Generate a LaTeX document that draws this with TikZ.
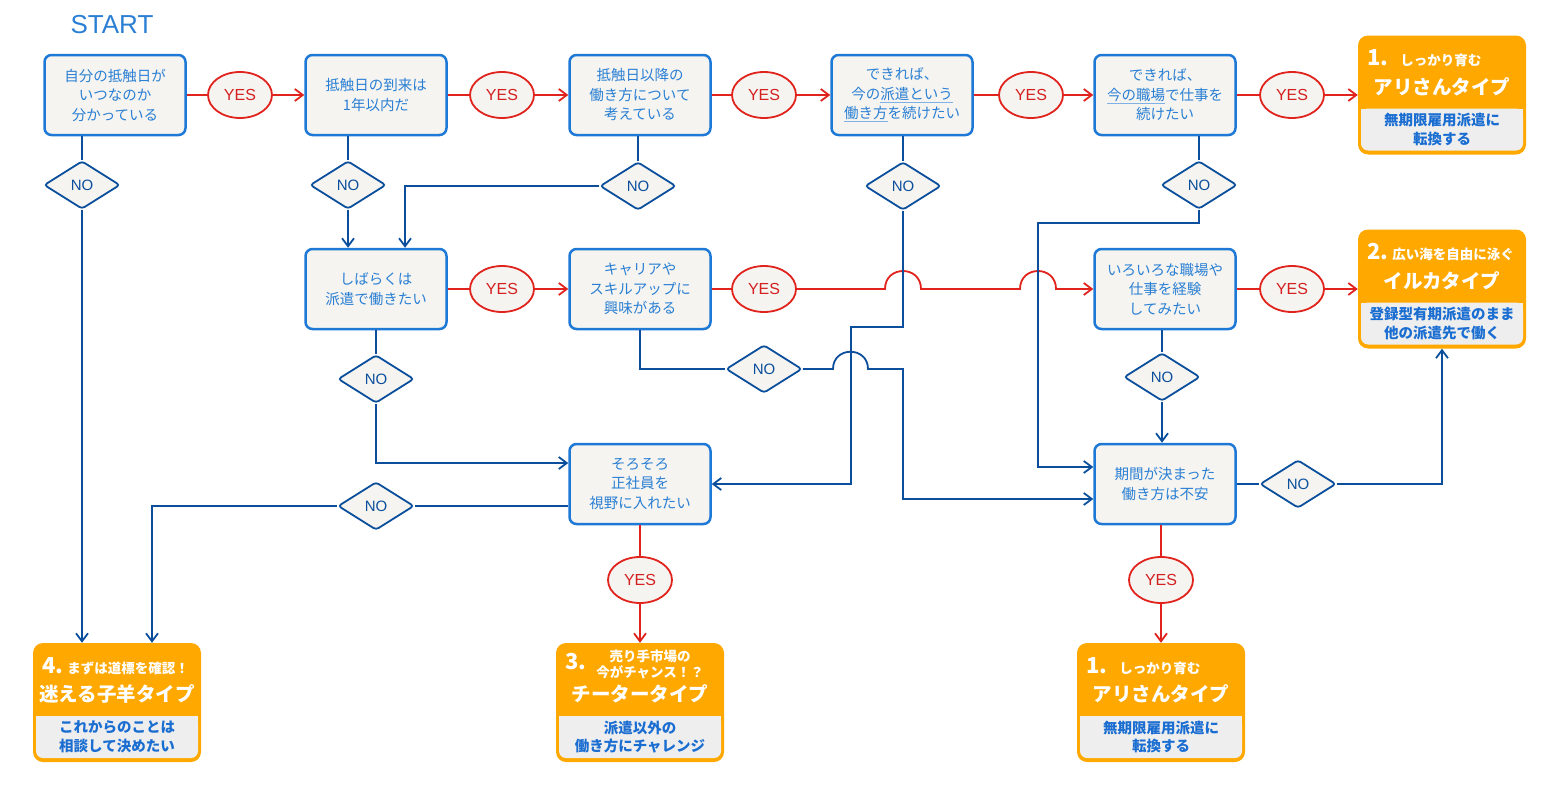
\documentclass[tikz,border=0pt]{standalone}
\usepackage{fontspec}
\setmainfont{Noto Sans CJK JP}
\newfontfamily\latinfont{Liberation Sans}
\usetikzlibrary{shapes.geometric,arrows.meta}

\definecolor{qborder}{HTML}{1E78D6}
\definecolor{qtext}{HTML}{2A7FD4}
\definecolor{qfill}{HTML}{F5F4F0}
\definecolor{ullight}{HTML}{7FB0E6}
\definecolor{noblue}{HTML}{0B4F9C}
\definecolor{yesred}{HTML}{E0231D}
\definecolor{yestext}{HTML}{D42020}
\definecolor{typeorange}{HTML}{FFA800}
\definecolor{panelgray}{HTML}{EEEEEE}
\definecolor{paneltext}{HTML}{1A6DD1}

\newcommand\ulmark[1]{{\color{ullight}\underline{\color{qtext}#1}}}
\newcommand\headnum{\fontsize{22}{22}\selectfont}
\newcommand\headsub{\fontsize{13.5}{16}\selectfont}

% orange result box: name, centre x, top y, header, title, panel text
\newcommand\typebox[6]{%
  \node[typebg] (#1) at (#2,#3+59.5) {};
  \fill[panelgray,rounded corners=7] (#2-81,#3+73) rectangle (#2+81,#3+115);
  \fill[panelgray] (#2-81,#3+73) rectangle (#2+81,#3+95);
  \node[paneltext] at (#2,#3+94) {#6};
  \node[typehead] at (#2-75,#3+23) {#4};
  \node[typetitle] at (#2,#3+51) {#5};
}

\begin{document}
\begin{tikzpicture}[x=1pt,y=-1pt,>={Straight Barb[length=8pt,width=12pt]},
    qbox/.style={draw=qborder, fill=qfill, line width=2.5, rounded corners=7,
      minimum width=141, minimum height=80, inner sep=0, align=center,
      text=qtext, font=\fontsize{14.5}{19.5}\selectfont},
    yesnode/.style={ellipse, draw=yesred, fill=qfill, line width=1.8,
      minimum width=64, minimum height=46, inner sep=0, text=yestext,
      font=\latinfont\fontsize{16}{16}\selectfont},
    nonode/.style={diamond, aspect=1.6, draw=noblue, fill=qfill, line width=1.8,
      minimum width=76, minimum height=48, inner sep=0, rounded corners=3,
      text=noblue, font=\latinfont\fontsize{15}{15}\selectfont},
    typebg/.style={fill=typeorange, rounded corners=10, minimum width=168,
      minimum height=119, inner sep=0},
    typehead/.style={anchor=west, inner sep=0, text=white, font=\bfseries},
    typetitle/.style={inner sep=0, text=white, font=\bfseries\fontsize{19.5}{20}\selectfont},
    paneltext/.style={inner sep=0, align=center, text=paneltext,
      font=\bfseries\fontsize{14.5}{18.5}\selectfont},
    yesline/.style={draw=yesred, line width=1.8},
    noline/.style={draw=noblue, line width=1.8}]
  \useasboundingbox (0,0) rectangle (1560,790);

  \node[text=qtext, font=\latinfont\fontsize{26}{26}\selectfont] (start) at (112,25) {START};

  % questions
  \node[qbox] (q1) at (115,95) {自分の抵触日が\\いつなのか\\分かっている};
  \node[qbox] (q2) at (376,95) {抵触日の到来は\\1年以内だ};
  \node[qbox] (q3) at (640,95) {抵触日以降の\\働き方について\\考えている};
  \node[qbox] (q4) at (902,95) {できれば、\\今の\ulmark{派遣という}\\\ulmark{働き方}を続けたい};
  \node[qbox] (q5) at (1165,95) {できれば、\\\ulmark{今の職場}で仕事を\\続けたい};
  \node[qbox] (q6) at (376,289) {しばらくは\\派遣で働きたい};
  \node[qbox] (q7) at (640,289) {キャリアや\\スキルアップに\\興味がある};
  \node[qbox] (q8) at (1165,289) {いろいろな職場や\\仕事を経験\\してみたい};
  \node[qbox] (q9) at (640,484) {そろそろ\\正社員を\\視野に入れたい};
  \node[qbox] (q10) at (1165,484) {期間が決まった\\働き方は不安};

  % answers
  \foreach \n/\x/\y in {y1/240/95,y2/502/95,y3/764/95,y4/1031/95,y5/1292/95,
      y6/502/289,y7/764/289,y8/1292/289,y9/640/580,y10/1161/580}
    \node[yesnode] (\n) at (\x,\y) {YES};
  \foreach \n/\x/\y in {n1/82/185,n2/348/185,n3/638/186,n4/903/186,n5/1199/185,
      n6/376/379,n7/764/369,n8/1162/377,n9/376/506,n10/1298/484}
    \node[nonode] (\n) at (\x,\y) {NO};

  % types
  \typebox{r1}{1442}{35.5}{{\headnum 1.}\hspace{12pt}{\headsub しっかり育む}}{アリさんタイプ}{無期限雇用派遣に\\転換する}
  \typebox{r2}{1442}{229.5}{{\headnum 2.}\hspace{4pt}{\headsub 広い海を自由に泳ぐ}}{イルカタイプ}{登録型有期派遣のまま\\他の派遣先で働く}
  \typebox{r3}{640}{643}{{\headnum 3.}\hspace{10pt}{\headsub\begin{tabular}{@{}c@{}}売り手市場の\\今がチャンス！？\end{tabular}}}{チータータイプ}{派遣以外の\\働き方にチャレンジ}
  \typebox{r4}{117}{643}{{\headnum 4.}\hspace{4pt}{\headsub まずは道標を確認！}}{迷える子羊タイプ}{これからのことは\\相談して決めたい}
  \typebox{r5}{1161}{643}{{\headnum 1.}\hspace{12pt}{\headsub しっかり育む}}{アリさんタイプ}{無期限雇用派遣に\\転換する}

  % yes connectors
  \foreach \a/\b/\c in {q1/y1/q2,q2/y2/q3,q3/y3/q4,q4/y4/q5,q5/y5/r1,q6/y6/q7,q8/y8/r2,q9/y9/r3} {
    \draw[yesline] (\a) -- (\b);
    \draw[yesline,->] (\b) -- (\c);
  }
  \draw[yesline] (q7) -- (y7);
  \draw[yesline,->] (y7) -- (885,289) .. controls (885,265) and (921,265) .. (921,289)
    -- (1020,289) .. controls (1020,265) and (1056,265) .. (1056,289) -- (q8);
  \draw[yesline] (q10.south -| y10) -- (y10);
  \draw[yesline,->] (y10) -- (y10 |- r5.north);

  % no connectors
  \draw[noline] (q1.south -| n1) -- (n1);
  \draw[noline,->] (n1) -- (n1 |- r4.north);
  \draw[noline] (q2.south -| n2) -- (n2);
  \draw[noline,->] (n2) -- (n2 |- q6.north);
  \draw[noline] (q3.south -| n3) -- (n3);
  \draw[noline,->] (n3) -| ([xshift=29]q6.north);
  \draw[noline] (q4.south -| n4) -- (n4);
  \draw[noline,->] (n4) |- (851,327) |- (q9);
  \draw[noline] (q5.south -| n5) -- (n5);
  \draw[noline,->] (n5) |- (1038,223) |- ([yshift=17]q10.west);
  \draw[noline] (q6) -- (n6);
  \draw[noline,->] (n6) |- ([yshift=21]q9.west);
  \draw[noline] (q7) |- (n7);
  \draw[noline,->] (n7) -- (833,369) .. controls (833,346) and (868,346) .. (868,369)
    -- (903,369) |- ([yshift=-15]q10.west);
  \draw[noline] (q8.south -| n8) -- (n8);
  \draw[noline,->] (n8) -- (n8 |- q10.north);
  \draw[noline] ([yshift=-22]q9.west) -- (n9);
  \draw[noline,->] (n9) -| ([xshift=35]r4.north);
  \draw[noline] (q10) -- (n10);
  \draw[noline,->] (n10) -| (r2.south);
\end{tikzpicture}
\end{document}
